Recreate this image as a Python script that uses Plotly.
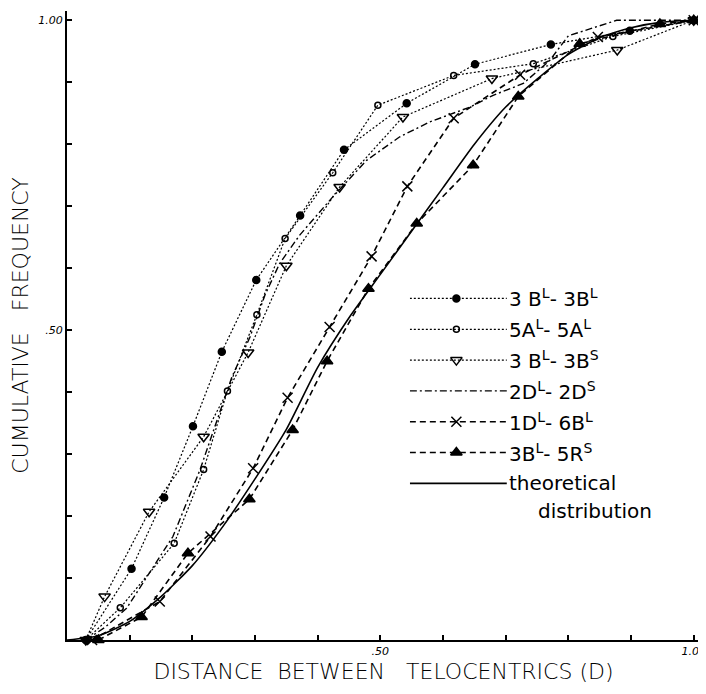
import plotly.graph_objects as go

# cumulative frequency curves
x_3bl_3bl = [0.03, 0.103, 0.155, 0.201, 0.247, 0.302, 0.372, 0.442, 0.542, 0.651, 0.772, 0.898, 1.0]
y_3bl_3bl = [0.0, 0.115, 0.230, 0.345, 0.465, 0.581, 0.685, 0.791, 0.866, 0.929, 0.961, 0.983, 1.0]

x_5al_5al = [0.03, 0.085, 0.171, 0.218, 0.256, 0.303, 0.348, 0.424, 0.496, 0.617, 0.744, 0.871, 1.0]
y_5al_5al = [0.0, 0.052, 0.156, 0.275, 0.402, 0.525, 0.648, 0.754, 0.863, 0.911, 0.930, 0.974, 1.0]

x_3bl_3bs = [0.03, 0.060, 0.131, 0.218, 0.289, 0.350, 0.435, 0.536, 0.678, 0.878, 1.0]
y_3bl_3bs = [0.0, 0.070, 0.207, 0.328, 0.464, 0.604, 0.731, 0.844, 0.906, 0.952, 1.0]

x_2dl_2ds = [0.03, 0.06, 0.095, 0.132, 0.169, 0.212, 0.237, 0.263, 0.292, 0.316, 0.339, 0.371,
             0.424, 0.478, 0.531, 0.579, 0.643, 0.680, 0.728, 0.770, 0.800, 0.877, 1.0]
y_2dl_2ds = [0.0, 0.02, 0.051, 0.108, 0.167, 0.274, 0.349, 0.424, 0.489, 0.557, 0.607, 0.653,
             0.715, 0.774, 0.812, 0.836, 0.860, 0.879, 0.898, 0.935, 0.975, 1.0, 1.0]

x_1dl_6bl = [0.04, 0.148, 0.229, 0.297, 0.352, 0.419, 0.486, 0.543, 0.617, 0.723, 0.847, 1.0]
y_1dl_6bl = [0.0, 0.062, 0.167, 0.277, 0.391, 0.505, 0.619, 0.732, 0.842, 0.912, 0.973, 1.0]

x_3bl_5rs = [0.05, 0.119, 0.193, 0.291, 0.360, 0.415, 0.481, 0.558, 0.648, 0.720, 0.818, 0.946, 1.0]
y_3bl_5rs = [0.0, 0.037, 0.140, 0.227, 0.339, 0.450, 0.567, 0.672, 0.766, 0.877, 0.962, 0.994, 1.0]

x_theory = [0.0, 0.05, 0.10, 0.15, 0.20, 0.25, 0.30, 0.35, 0.40, 0.45, 0.50, 0.55, 0.60,
            0.65, 0.70, 0.75, 0.80, 0.85, 0.90, 0.95, 1.0]
y_theory = [0.0, 0.007, 0.03, 0.07, 0.12, 0.185, 0.26, 0.34, 0.44, 0.52, 0.59, 0.66, 0.73,
            0.80, 0.86, 0.905, 0.945, 0.972, 0.988, 0.997, 1.0]

labels = ["3 B<sup>L</sup>- 3B<sup>L</sup>", "5A<sup>L</sup>- 5A<sup>L</sup>",
          "3 B<sup>L</sup>- 3B<sup>S</sup>", "2D<sup>L</sup>- 2D<sup>S</sup>",
          "1D<sup>L</sup>- 6B<sup>L</sup>", "3B<sup>L</sup>- 5R<sup>S</sup>", "theoretical"]

tick_vals = [0.1, 0.2, 0.3, 0.4, 0.5, 0.6, 0.7, 0.8, 0.9, 1.0]
tick_text = ["", "", "", "", ".50", "", "", "", "", "1.00"]

styles = [
    dict(dash="2px,2px", width=1.2, symbol="circle", size=7),
    dict(dash="2px,2px", width=1.2, symbol="circle-open", size=6),
    dict(dash="2px,2px", width=1.2, symbol="triangle-down-open", size=10),
    dict(dash="7px,3px,2px,3px", width=1.4, symbol=None, size=0),
    dict(dash="6px,4px", width=1.6, symbol="x-thin-open", size=10),
    dict(dash="6px,4px", width=1.6, symbol="triangle-up", size=10),
    dict(dash="solid", width=1.6, symbol=None, size=0),
]
series = [(x_3bl_3bl, y_3bl_3bl), (x_5al_5al, y_5al_5al), (x_3bl_3bs, y_3bl_3bs),
          (x_2dl_2ds, y_2dl_2ds), (x_1dl_6bl, y_1dl_6bl), (x_3bl_5rs, y_3bl_5rs),
          (x_theory, y_theory)]

fig = go.Figure()

for (xs, ys), st in zip(series, styles):
    mode = "lines+markers" if st["symbol"] else "lines"
    fig.add_trace(go.Scatter(
        x=xs, y=ys, mode=mode, showlegend=False, cliponaxis=False,
        line=dict(color="black", width=st["width"], dash=st["dash"],
                  shape="spline" if st["dash"] == "solid" else "linear", smoothing=0.6),
        marker=dict(symbol=st["symbol"] or "circle", size=st["size"], color="black",
                    line=dict(color="black", width=1.5)),
    ))

# hand-made key drawn on its own little axes
for row, st in enumerate(styles):
    fig.add_trace(go.Scatter(
        x=[0, 0.5, 1], y=[row, row, row], xaxis="x2", yaxis="y2",
        mode="lines", showlegend=False, cliponaxis=False,
        line=dict(color="black", width=st["width"], dash=st["dash"]),
    ))
    if st["symbol"]:
        fig.add_trace(go.Scatter(
            x=[0.48], y=[row], xaxis="x2", yaxis="y2", mode="markers",
            showlegend=False, cliponaxis=False,
            marker=dict(symbol=st["symbol"], size=st["size"], color="black",
                        line=dict(color="black", width=1.5)),
        ))
    fig.add_annotation(x=1.005, y=row, xref="x2", yref="y2", text=labels[row],
                       showarrow=False, xanchor="left", yanchor="middle",
                       font=dict(size=20, color="black"))
fig.add_annotation(x=1.3, y=6.9, xref="x2", yref="y2", text="distribution",
                   showarrow=False, xanchor="left", yanchor="middle",
                   font=dict(size=20, color="black"))

axis_common = dict(
    showgrid=False, zeroline=False, showline=True, linecolor="black", linewidth=2,
    ticks="inside", ticklen=5, tickwidth=1.5, tickcolor="black", automargin=False,
    tickvals=tick_vals, ticktext=tick_text,
    tickfont=dict(size=11, color="black", family="DejaVu Sans", style="italic"),
)

fig.update_layout(
    width=706, height=694,
    plot_bgcolor="white", paper_bgcolor="white",
    font=dict(family="DejaVu Sans, Arial, sans-serif", color="black"),
    margin=dict(l=59, r=13.7, t=2.7, b=62),
    xaxis=dict(axis_common, range=[0, 1.01],
               title=dict(text="DISTANCE  BETWEEN   TELOCENTRICS (D)",
                          font=dict(size=22, weight=300), standoff=6)),
    yaxis=dict(axis_common, range=[0, 1.015],
               title=dict(text="CUMULATIVE   FREQUENCY",
                          font=dict(size=22, weight=300), standoff=6)),
    xaxis2=dict(domain=[0.5416, 0.9245], range=[0, 2.5], visible=False, anchor="y2"),
    yaxis2=dict(domain=[0.1853, 0.5577], range=[7.3, -0.3], visible=False, anchor="x2"),
)

fig.write_html("out.html")
